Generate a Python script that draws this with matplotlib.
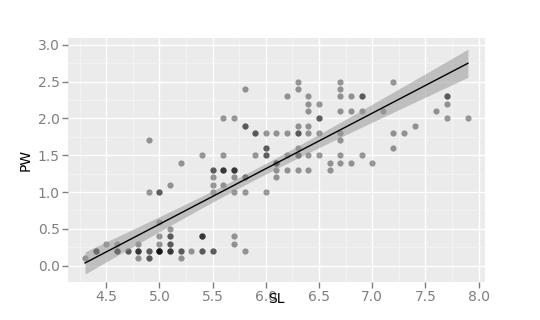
import matplotlib
matplotlib.use("Agg")
import matplotlib.pyplot as plt
import numpy as np

# iris: sepal length (SL) and petal width (PW)
sl = [5.1, 4.9, 4.7, 4.6, 5.0, 5.4, 4.6, 5.0, 4.4, 4.9, 5.4, 4.8, 4.8, 4.3, 5.8, 5.7, 5.4, 5.1, 5.7, 5.1,
      5.4, 5.1, 4.6, 5.1, 4.8, 5.0, 5.0, 5.2, 5.2, 4.7, 4.8, 5.4, 5.2, 5.5, 4.9, 5.0, 5.5, 4.9, 4.4, 5.1,
      5.0, 4.5, 4.4, 5.0, 5.1, 4.8, 5.1, 4.6, 5.3, 5.0,
      7.0, 6.4, 6.9, 5.5, 6.5, 5.7, 6.3, 4.9, 6.6, 5.2, 5.0, 5.9, 6.0, 6.1, 5.6, 6.7, 5.6, 5.8, 6.2, 5.6,
      5.9, 6.1, 6.3, 6.1, 6.4, 6.6, 6.8, 6.7, 6.0, 5.7, 5.5, 5.5, 5.8, 6.0, 5.4, 6.0, 6.7, 6.3, 5.6, 5.5,
      5.5, 6.1, 5.8, 5.0, 5.6, 5.7, 5.7, 6.2, 5.1, 5.7,
      6.3, 5.8, 7.1, 6.3, 6.5, 7.6, 4.9, 7.3, 6.7, 7.2, 6.5, 6.4, 6.8, 5.7, 5.8, 6.4, 6.5, 7.7, 7.7, 6.0,
      6.9, 5.6, 7.7, 6.3, 6.7, 7.2, 6.2, 6.1, 6.4, 7.2, 7.4, 7.9, 6.4, 6.3, 6.1, 7.7, 6.3, 6.4, 6.0, 6.9,
      6.7, 6.9, 5.8, 6.8, 6.7, 6.7, 6.3, 6.5, 6.2, 5.9]
pw = [0.2, 0.2, 0.2, 0.2, 0.2, 0.4, 0.3, 0.2, 0.2, 0.1, 0.2, 0.2, 0.1, 0.1, 0.2, 0.4, 0.4, 0.3, 0.3, 0.3,
      0.2, 0.4, 0.2, 0.5, 0.2, 0.2, 0.4, 0.2, 0.2, 0.2, 0.2, 0.4, 0.1, 0.2, 0.2, 0.2, 0.2, 0.1, 0.2, 0.2,
      0.3, 0.3, 0.2, 0.6, 0.4, 0.3, 0.2, 0.2, 0.2, 0.2,
      1.4, 1.5, 1.5, 1.3, 1.5, 1.3, 1.6, 1.0, 1.3, 1.4, 1.0, 1.5, 1.0, 1.4, 1.3, 1.4, 1.5, 1.0, 1.5, 1.1,
      1.8, 1.3, 1.5, 1.2, 1.3, 1.4, 1.4, 1.7, 1.5, 1.0, 1.1, 1.0, 1.2, 1.6, 1.5, 1.6, 1.5, 1.3, 1.3, 1.3,
      1.2, 1.4, 1.2, 1.0, 1.3, 1.2, 1.3, 1.3, 1.1, 1.3,
      2.5, 1.9, 2.1, 1.8, 2.2, 2.1, 1.7, 1.8, 1.8, 2.5, 2.0, 1.9, 2.1, 2.0, 2.4, 2.3, 1.8, 2.2, 2.3, 1.5,
      2.3, 2.0, 2.0, 1.8, 2.1, 1.8, 1.8, 1.8, 2.1, 1.6, 1.9, 2.0, 2.2, 1.5, 1.4, 2.3, 2.4, 1.8, 1.8, 2.1,
      2.4, 2.3, 1.9, 2.3, 2.5, 2.3, 1.9, 2.0, 2.3, 1.8]

x_ticks = [4.5, 5.0, 5.5, 6.0, 6.5, 7.0, 7.5, 8.0]
y_ticks = [0.0, 0.5, 1.0, 1.5, 2.0, 2.5, 3.0]

x = np.array(sl)
y = np.array(pw)

# linear fit + 95% confidence band
n = len(x)
b1, b0 = np.polyfit(x, y, 1)
resid = y - (b0 + b1 * x)
s = np.sqrt(np.sum(resid ** 2) / (n - 2))
xs = np.linspace(x.min(), x.max(), 100)
ys = b0 + b1 * xs
se = s * np.sqrt(1 / n + (xs - x.mean()) ** 2 / np.sum((x - x.mean()) ** 2))
t = 1.976

fig = plt.figure(figsize=(5.4, 3.2), dpi=100)
ax = fig.add_axes([0.126, 0.119, 0.772, 0.762])
ax.set_facecolor('#EBEBEB')

ax.scatter(x, y, s=20, color='black', alpha=0.38, linewidths=0, zorder=3)
ax.fill_between(xs, ys - t * se, ys + t * se, color='#999999', alpha=0.55,
                linewidth=0, zorder=4)
ax.plot(xs, ys, color='black', lw=1.0, zorder=5)

ax.set_xticks(x_ticks)
ax.set_yticks(y_ticks)
ax.set_xticks([v - 0.25 for v in x_ticks], minor=True)
ax.set_yticks([v - 0.25 for v in y_ticks[1:]], minor=True)
ax.set_xticklabels(['%.1f' % v for v in x_ticks])
ax.set_yticklabels(['%.1f' % v for v in y_ticks])
# limits after the ticks, set_ticks would otherwise widen them
ax.set_xlim(4.14, 8.06)
ax.set_ylim(-0.22, 3.09)

ax.grid(which='major', color='white', lw=1.0, zorder=1)
ax.grid(which='minor', color='#F4F4F4', lw=0.6, zorder=1)
ax.set_axisbelow(True)
for sp in ax.spines.values():
    sp.set_visible(False)

ax.tick_params(which='major', length=4, width=1, color='#7F7F7F',
               labelcolor='#7F7F7F', labelsize=10, pad=2)
ax.tick_params(which='minor', length=0)

# ggplot put the axis titles right up against the tick labels
ax.set_xlabel('SL', fontsize=10)
ax.xaxis.set_label_coords(0.5, -0.04)
ax.set_ylabel('PW', fontsize=10)
ax.yaxis.set_label_coords(-0.085, 0.5)

fig.savefig('out.png', dpi=100)
